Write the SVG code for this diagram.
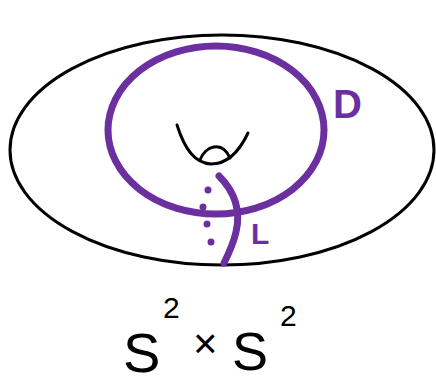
<svg xmlns="http://www.w3.org/2000/svg" width="436" height="384" viewBox="0 0 436 384">
<style>
.blk{fill:none;stroke:#000;stroke-width:3;stroke-linecap:round}
.pur{fill:none;stroke:#6b2fa0;stroke-width:7;stroke-linecap:round}
.lbl{font-family:"Liberation Sans",sans-serif;fill:#6b2fa0;font-weight:bold}
.math{font-family:"Liberation Sans",sans-serif;fill:#000}
</style>
<rect width="436" height="384" fill="#fff"/>
<g id="torus">
<ellipse class="blk" cx="222" cy="150" rx="212" ry="115"/>
<path class="blk" d="M177,125 C185,150 195,163 211,164 C228,164 240,150 248,133"/>
<path class="blk" d="M200,160 C205,146 222,140 230,158"/>
</g>
<g id="connectors">
<ellipse class="pur" cx="216" cy="130" rx="108" ry="84"/>
<path class="pur" d="M219,176 C238,195 240,215 236,232 C233,245 228,255 224,263"/>
<g fill="#6b2fa0">
<circle cx="208" cy="190" r="3.5"/>
<circle cx="203" cy="207" r="3.5"/>
<circle cx="207" cy="224" r="3.5"/>
<circle cx="211" cy="242" r="3.5"/>
</g>
</g>
<g id="label-D"><text class="lbl" x="333" y="118" font-size="40">D</text></g>
<g id="label-L"><text class="lbl" x="251" y="244" font-size="30">L</text></g>
<g id="formula">
<text class="math" x="123" y="372" font-size="56">S</text>
<text class="math" x="163" y="318" font-size="30">2</text>
<text class="math" x="193" y="358" font-size="42">×</text>
<text class="math" x="232" y="370" font-size="54">S</text>
<text class="math" x="280" y="326" font-size="30">2</text>
</g>
</svg>
